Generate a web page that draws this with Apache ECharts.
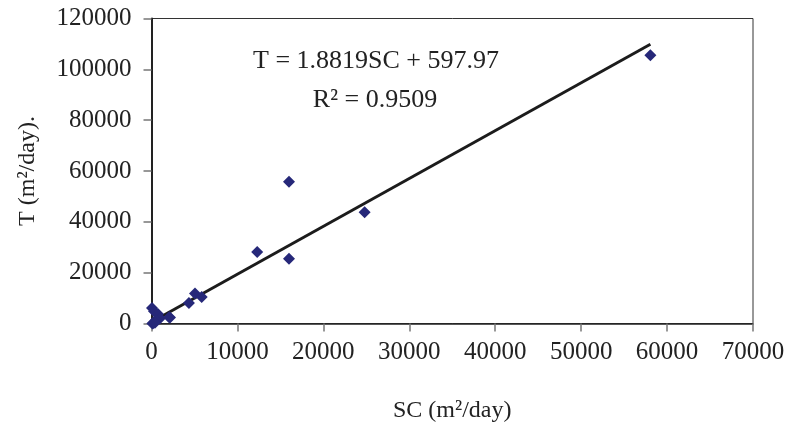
<!DOCTYPE html>
<html>
<head>
<meta charset="utf-8">
<script src="https://cdn.jsdelivr.net/npm/echarts@6/dist/echarts.min.js"></script>
<style>
  html, body { margin: 0; padding: 0; background: #fff; }
  #chart { width: 789px; height: 436px; }
</style>
</head>
<body>
<div id="chart"></div>
<script>
// Specific capacity (SC) vs transmissivity (T), both in m²/day
const scValues = [58060, 16000, 24800, 12300, 16000, 5060, 5840, 4360, 2150,
                  60, 290, 750, 990, 520, 180, 100, 400, 2050];
const tValues  = [105500, 55800, 43800, 28100, 25500, 11800, 10460, 8100, 2360,
                  6100, 4800, 3700, 2100, 1300, 100, 0, 300, 2500];

// Linear regression reported for the data
const slope = 1.8819;
const intercept = 597.97;
const equationText = 'T = 1.8819SC + 597.97';
const r2Text = 'R² = 0.9509';

const xTicks = { min: 0, max: 70000, interval: 10000 };
const yTicks = { min: 0, max: 120000, interval: 20000 };

const points = scValues.map((x, i) => [x, tValues[i]]);
const xMin = Math.min(...scValues);
const xMax = Math.max(...scValues);
const fitLine = [[xMin, slope * xMin + intercept], [xMax, slope * xMax + intercept]];

const serif = '"Liberation Serif", "Times New Roman", serif';
const textColor = '#222';
const plain = v => String(v);

const chart = echarts.init(document.getElementById('chart'), null, { renderer: 'canvas' });
chart.setOption({
  animation: false,
  backgroundColor: '#fff',
  grid: {
    left: 151.5, right: 36, top: 18.5, bottom: 112.5,
    show: true, borderColor: '#333', borderWidth: 1, backgroundColor: 'transparent',
    containLabel: false, outerBoundsMode: 'none'
  },
  xAxis: {
    type: 'value', min: xTicks.min, max: xTicks.max, interval: xTicks.interval,
    name: 'SC (m²/day)', nameLocation: 'middle', nameGap: 75,
    nameTextStyle: { fontFamily: serif, fontSize: 24, color: textColor },
    axisLine: { show: true, onZero: false, lineStyle: { color: '#222', width: 1.5 } },
    axisTick: { show: true, inside: false, length: 8, lineStyle: { color: '#777', width: 1.5 } },
    axisLabel: { margin: 16, fontFamily: serif, fontSize: 25, color: textColor, formatter: plain },
    splitLine: { show: false }
  },
  yAxis: {
    type: 'value', min: yTicks.min, max: yTicks.max, interval: yTicks.interval,
    name: 'T (m²/day).', nameLocation: 'middle', nameGap: 112,
    nameTextStyle: { fontFamily: serif, fontSize: 24, color: textColor },
    axisLine: { show: true, onZero: false, lineStyle: { color: '#222', width: 2 } },
    axisTick: { show: true, inside: false, length: 8, lineStyle: { color: '#777', width: 1.5 } },
    axisLabel: { margin: 20, fontFamily: serif, fontSize: 25, color: textColor, formatter: plain },
    splitLine: { show: false }
  },
  series: [
    {
      name: 'Linear fit',
      type: 'line',
      data: fitLine,
      showSymbol: false,
      symbol: 'none',
      lineStyle: { color: '#1c1c1c', width: 3 },
      z: 2,
      silent: true
    },
    {
      name: 'T vs SC',
      type: 'scatter',
      data: points,
      symbol: 'diamond',
      symbolSize: [12, 12],
      itemStyle: { color: '#262879', opacity: 1 },
      z: 3
    }
  ],
  graphic: [
    {
      type: 'text', x: 376, y: 61,
      style: { text: equationText, font: '26px ' + serif, fill: textColor,
               textAlign: 'center', textVerticalAlign: 'middle' }
    },
    {
      type: 'text', x: 375, y: 100,
      style: { text: r2Text, font: '26px ' + serif, fill: textColor,
               textAlign: 'center', textVerticalAlign: 'middle' }
    }
  ]
});
</script>
</body>
</html>
